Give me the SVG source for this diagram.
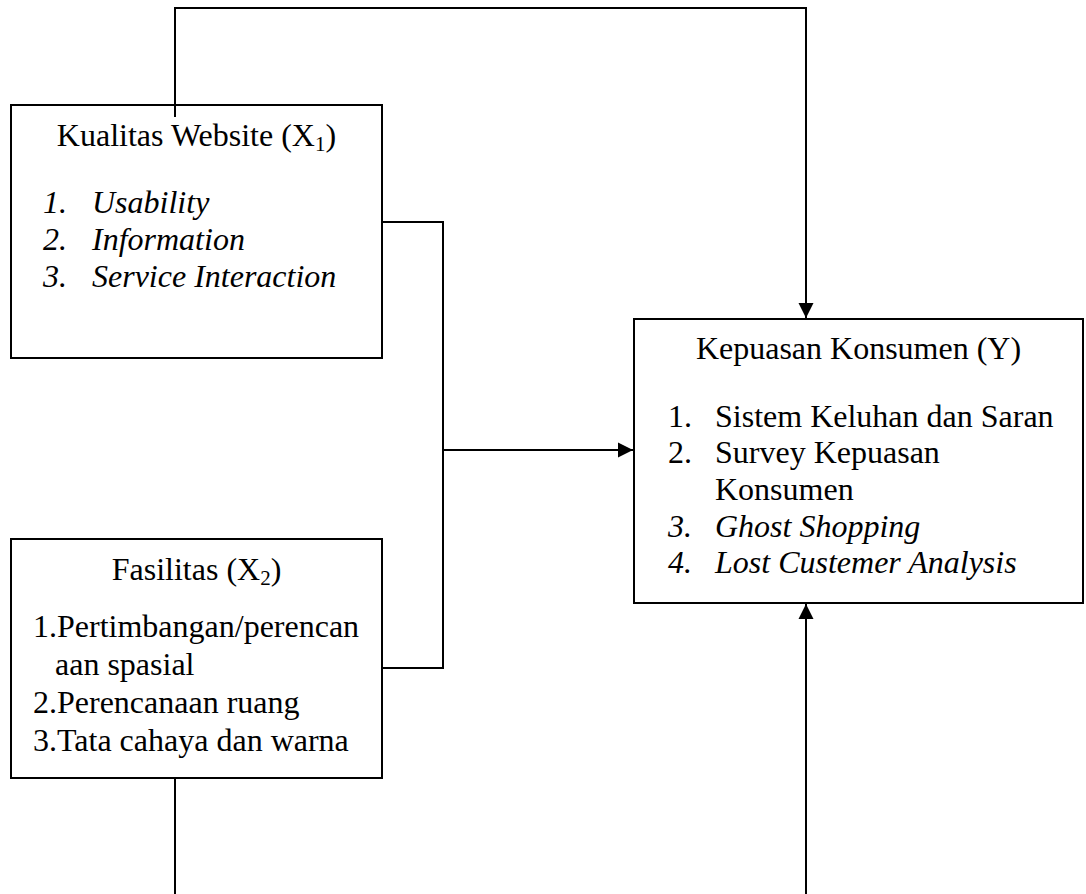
<svg xmlns="http://www.w3.org/2000/svg" width="1086" height="894" viewBox="0 0 1086 894">
<style>
.box{fill:#fff;stroke:#000;stroke-width:2}
.ln{fill:none;stroke:#000;stroke-width:2}
text{font-family:"Liberation Serif","Times New Roman",serif;font-size:32px;fill:#000}
.it{font-style:italic}
.mid{text-anchor:middle}
</style>
<defs>
<marker id="arr" markerWidth="16" markerHeight="16" refX="15" refY="8" orient="auto" markerUnits="userSpaceOnUse">
<path d="M0,0.5 L15,8 L0,15.5 z" fill="#000"/>
</marker>
</defs>
<g id="x1">
<rect class="box" x="11" y="105" width="371" height="253"/>
<text class="mid" x="196.5" y="146">Kualitas Website (X<tspan font-size="21" dy="5">1</tspan><tspan dy="-5">)</tspan></text>
<text class="it" x="43" y="213">1.</text><text class="it" x="92" y="213">Usability</text>
<text class="it" x="43" y="250">2.</text><text class="it" x="92" y="250">Information</text>
<text class="it" x="43" y="287">3.</text><text class="it" x="92" y="287">Service Interaction</text>
</g>
<g id="x2">
<rect class="box" x="11" y="539" width="371" height="239"/>
<text class="mid" x="196.5" y="580">Fasilitas (X<tspan font-size="21" dy="5">2</tspan><tspan dy="-5">)</tspan></text>
<text x="33" y="637">1.Pertimbangan/perencan</text>
<text x="55" y="675">aan spasial</text>
<text x="33" y="713">2.Perencanaan ruang</text>
<text x="33" y="751">3.Tata cahaya dan warna</text>
</g>
<g id="y">
<rect class="box" x="634" y="319" width="449" height="284"/>
<text class="mid" x="858.5" y="359">Kepuasan Konsumen (Y)</text>
<text x="668" y="427">1.</text><text x="715" y="427">Sistem Keluhan dan Saran</text>
<text x="668" y="463">2.</text><text x="715" y="463">Survey Kepuasan</text>
<text x="715" y="500">Konsumen</text>
<text class="it" x="668" y="537">3.</text><text class="it" x="715" y="537">Ghost Shopping</text>
<text class="it" x="668" y="573">4.</text><text class="it" x="715" y="573">Lost Custemer Analysis</text>
</g>
<g id="connectors">
<path class="ln" d="M175,117 V8 H806 V318" marker-end="url(#arr)"/>
<path class="ln" d="M382,222 H443 V668 H382"/>
<path class="ln" d="M443,450 H633" marker-end="url(#arr)"/>
<path class="ln" d="M175,778 V894"/>
<path class="ln" d="M806,894 V604" marker-end="url(#arr)"/>
</g>
</svg>
